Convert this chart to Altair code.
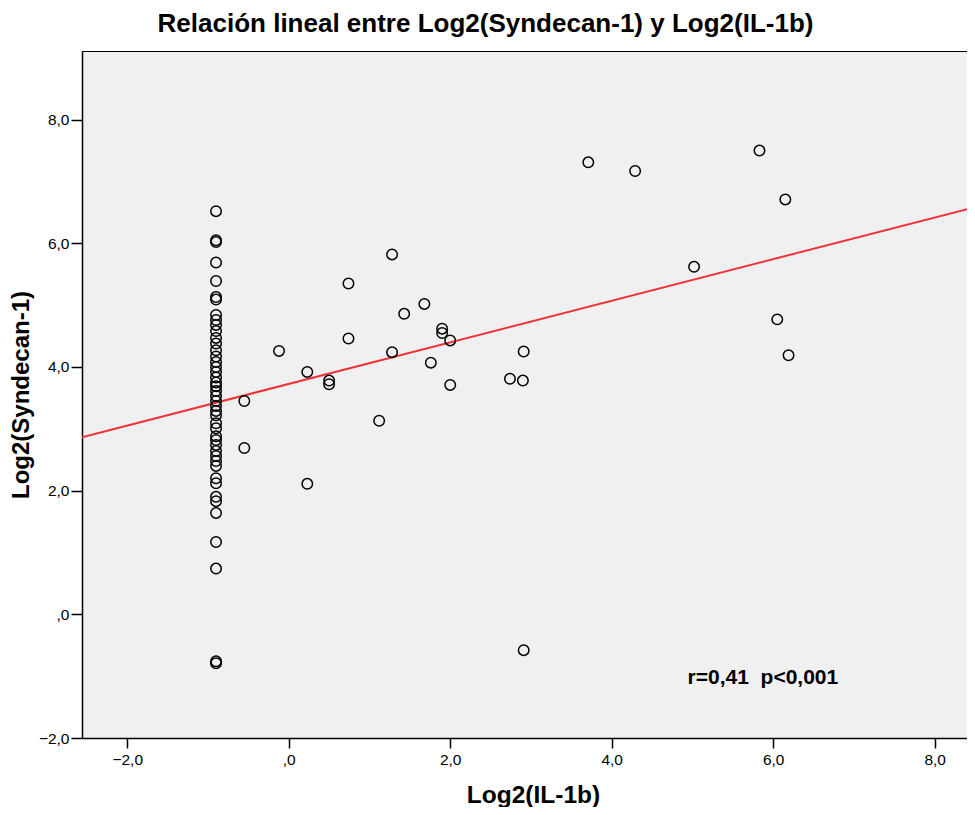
import altair as alt
import pandas as pd

# Dense column of observations at the detection limit (x = -0.90)
col_x = -0.90
col_y = [6.52, 6.05, 6.02, 5.69, 5.39, 5.13, 5.09, 4.84, 4.76, 4.68, 4.58, 4.47,
         4.38, 4.27, 4.17, 4.08, 4.00, 3.92, 3.83, 3.75, 3.69, 3.61, 3.53, 3.45,
         3.37, 3.29, 3.22, 3.09, 3.01, 2.88, 2.82, 2.74, 2.64, 2.56, 2.48, 2.40,
         2.20, 2.12, 1.90, 1.83, 1.64, 1.17, 0.74, -0.76, -0.79]

# Remaining observations
other_x = [-0.55, -0.55, -0.12, 0.23, 0.23, 0.50, 0.50, 0.74, 0.74, 1.28, 1.28,
           1.12, 1.43, 1.68, 1.76, 1.90, 1.90, 2.00, 2.00, 2.74, 2.90, 2.91, 2.91,
           3.71, 4.29, 5.02, 5.83, 6.15, 6.05, 6.19]
other_y = [3.45, 2.69, 4.26, 3.92, 2.11, 3.78, 3.72, 5.35, 4.46, 5.82, 4.24,
           3.13, 4.86, 5.02, 4.07, 4.62, 4.55, 4.43, 3.71, 3.81, 3.78, 4.25, -0.58,
           7.31, 7.17, 5.62, 7.50, 6.71, 4.77, 4.19]

# Fitted regression line end points
fit_x = [-2.56, 8.50]
fit_y = [2.865, 6.585]

annot_x = [4.94]
annot_y = [-1.03]
annot_text = ["r=0,41\u00a0\u00a0p<0,001"]

x_domain = [-2.56, 8.40]
y_domain = [-2.0, 9.11]
x_ticks = [-2, 0, 2, 4, 6, 8]
y_ticks = [-2, 0, 2, 4, 6, 8]

FONT = "Liberation Sans"

pts = pd.DataFrame({
    "x": [col_x] * len(col_y) + other_x,
    "y": col_y + other_y,
})
fit = pd.DataFrame({"x": fit_x, "y": fit_y})
ann = pd.DataFrame({"x": annot_x, "y": annot_y, "t": annot_text})

label_expr = "datum.value == 0 ? ',0' : replace(format(datum.value, '.1f'), '.', ',')"

xs = alt.Scale(domain=x_domain, nice=False, zero=False)
ys = alt.Scale(domain=y_domain, nice=False, zero=False)

xaxis = alt.Axis(values=x_ticks, labelExpr=label_expr, title="Log2(IL-1b)",
                 tickSize=10, labelPadding=4, titlePadding=16, titleX=451)
yaxis = alt.Axis(values=y_ticks, labelExpr=label_expr, title="Log2(Syndecan-1)",
                 tickSize=11, labelPadding=2, titlePadding=5, titleFontSize=24)

points = alt.Chart(pts).mark_point(
    shape="circle", filled=False, color="black", size=110, strokeWidth=1.5, opacity=1
).encode(
    x=alt.X("x:Q", scale=xs, axis=xaxis),
    y=alt.Y("y:Q", scale=ys, axis=yaxis),
)

line = alt.Chart(fit).mark_line(color="#ee3338", strokeWidth=2, clip=True).encode(
    x=alt.X("x:Q", scale=xs),
    y=alt.Y("y:Q", scale=ys),
)

text = alt.Chart(ann).mark_text(
    align="left", baseline="middle", font=FONT, fontSize=21, fontWeight="bold",
    color="black"
).encode(
    x=alt.X("x:Q", scale=xs),
    y=alt.Y("y:Q", scale=ys),
    text="t:N",
)

chart = alt.layer(line, points, text).properties(
    width=885,
    height=687,
    title=alt.TitleParams(
        "Relación lineal entre Log2(Syndecan-1) y Log2(IL-1b)",
        font=FONT, fontSize=26, fontWeight="bold", color="black",
        anchor="middle", dx=-39, offset=14,
    ),
    autosize=alt.AutoSizeParams(type="none"),
    padding={"left": 74, "top": 43, "right": 0, "bottom": 69},
).configure_view(
    fill="#f0f0f0", stroke="black", strokeWidth=1
).configure_axis(
    grid=False, domainColor="black", domainWidth=1.5, tickColor="black",
    tickWidth=1.5, labelFont=FONT, labelFontSize=15.5, labelColor="black",
    titleFont=FONT, titleFontSize=24.5, titleFontWeight="bold", titleColor="black",
)

chart.save("out.html", embed_options={"renderer": "svg", "actions": False})
